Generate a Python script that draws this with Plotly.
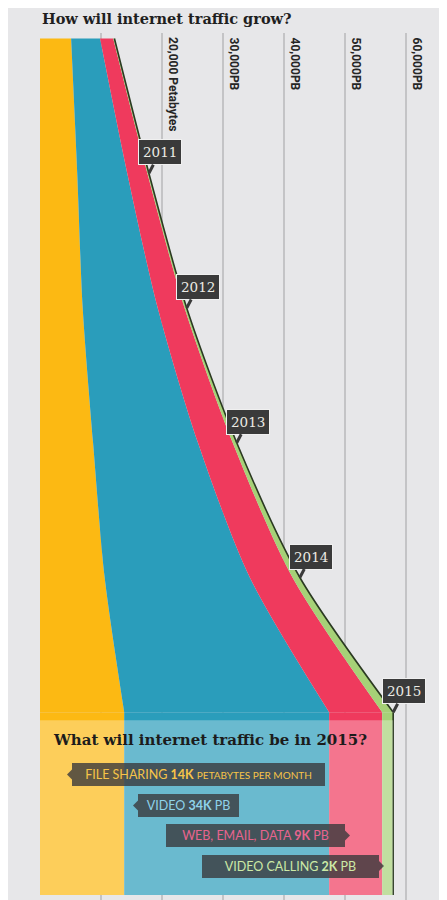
import plotly.graph_objects as go

# ---------------- data ----------------
years = [2010, 2011, 2012, 2013, 2014, 2015]
file_sharing = [5100, 6100, 7000, 8700, 10600, 13800]
video = [4750, 8200, 12300, 17200, 23800, 33600]
web_email_data = [2150, 3300, 4400, 5700, 7000, 8700]
video_calling = [200, 250, 350, 650, 1200, 1800]
series_names = ["File sharing", "Video", "Web, email, data", "Video calling"]
grid_values = [10000, 20000, 30000, 40000, 50000, 60000]
grid_labels = ["", "20,000 Petabytes", "30,000PB", "40,000PB", "50,000PB", "60,000PB"]
year_labels = ["2011", "2012", "2013", "2014", "2015"]

# ---------------- layout geometry (page px; page body has an 8px margin) ----------------
OFF = 8
PW, PH = 447, 900
W, H = PW - OFF, PH - OFF
L, T = 40, 33                     # plot origin in page px
plot_w = PW - L
plot_h = PH - T
px_per_pb = 0.0061
x_max = plot_w / px_per_pb
px_per_year = 134.75
y_top = years[0] - 5.5 / px_per_year
y_bot = y_top + plot_h / px_per_year
summary_end = y_top + (895 - T) / px_per_year   # 2015 band continues into the summary panel

BG = "#e7e7e9"
colors = ["#fcb913", "#2a9dbb", "#ef3a5d", "#a6d177"]


def xp(p):
    return (p - L) / plot_w


def yp(p):
    return 1 - (p - T) / plot_h


all_series = [file_sharing, video, web_email_data, video_calling]

fig = go.Figure()
# growth section (2010-2015), smooth
for i, (name, vals) in enumerate(zip(series_names, all_series)):
    last = i == len(all_series) - 1
    fig.add_trace(go.Scatter(
        x=vals, y=years, name=name,
        stackgroup="growth", orientation="h", mode="lines",
        line=dict(width=1.6 if last else 0, color="#2b3a22" if last else colors[i],
                  shape="spline", smoothing=0.8),
        fillcolor=colors[i], hoverinfo="skip", showlegend=False,
    ))
# 2015 band continued through the summary panel
for i, (name, vals) in enumerate(zip(series_names, all_series)):
    last = i == len(all_series) - 1
    fig.add_trace(go.Scatter(
        x=[vals[-1], vals[-1]], y=[years[-1], summary_end], name=name + " 2015",
        stackgroup="summary", orientation="h", mode="lines",
        line=dict(width=1.6 if last else 0, color="#2b3a22" if last else colors[i]),
        fillcolor=colors[i], hoverinfo="skip", showlegend=False,
    ))

totals = [sum(v) for v in zip(*all_series)]

annotations = []
shapes = []

# title
annotations.append(dict(
    x=xp(40), y=yp(OFF), xref="paper", yref="paper", xanchor="left", yanchor="top",
    text="<b>How will internet traffic grow?</b>", showarrow=False,
    font=dict(family="DejaVu Serif", size=14.5, color="#1f1f1f")))

# grid labels (rotated)
for v, lab in zip(grid_values, grid_labels):
    if not lab:
        continue
    annotations.append(dict(
        x=v, y=yp(35), xref="x", yref="paper", xanchor="left", yanchor="top",
        xshift=2, textangle=90, text="<b>%s</b>" % lab, showarrow=False,
        font=dict(family="Roboto", size=12, color="#262626")))

# year callouts
for yr, lab, tot in zip(years[1:], year_labels, totals[1:]):
    annotations.append(dict(
        x=tot, y=yr, xref="x", yref="y", text=lab, showarrow=True,
        ax=11, ay=-21, arrowhead=0, arrowwidth=3, arrowcolor="#3a3a3a",
        bgcolor="#3a3a3a", bordercolor="#f0f0f0", borderwidth=1, borderpad=4,
        font=dict(family="DejaVu Serif", size=13.5, color="#ecebe4")))

# summary panel overlay
shapes.append(dict(
    type="rect", xref="x", yref="y", x0=0, x1=totals[-1],
    y0=years[-1] + 8 / px_per_year, y1=summary_end,
    fillcolor="rgba(255,255,255,0.30)", line=dict(width=0), layer="above"))

annotations.append(dict(
    x=xp(51), y=yp(740), xref="paper", yref="paper", xanchor="left", yanchor="middle",
    text="<b>What will internet traffic be in 2015?</b>", showarrow=False,
    font=dict(family="DejaVu Serif", size=15, color="#1c1c1c")))


def k(v):
    return "%dK" % round(v / 1000)


label_rows = [
    ("FILE SHARING <b>%s</b> <span style='font-size:10px'>PETABYTES PER MONTH</span>" % k(file_sharing[-1]),
     72, 253, 774.5, "#f7c448", "left"),
    ("VIDEO <b>%s</b> PB" % k(video[-1]), 138, 101, 805.5, "#8fd2ea", "left"),
    ("WEB, EMAIL, DATA <b>%s</b> PB" % k(web_email_data[-1]), 166, 179, 835.5, "#e8648e", "right"),
    ("VIDEO CALLING <b>%s</b> PB" % k(video_calling[-1]), 202, 177, 866, "#cce9a6", "right"),
]
BOX = "rgba(58,58,60,0.80)"
for text, left, width, cy, col, notch in label_rows:
    annotations.append(dict(
        x=xp(left), y=yp(cy), xref="paper", yref="paper", xanchor="left", yanchor="middle",
        text=text, showarrow=False, width=width, height=23, align="center",
        bgcolor=BOX, borderpad=0, borderwidth=0,
        font=dict(family="Lato", size=12.5, color=col)))
    if notch == "left":
        x0, x1 = left, left - 5
    else:
        x0, x1 = left + width, left + width + 5
    path = "M %.5f,%.5f L %.5f,%.5f L %.5f,%.5f Z" % (
        xp(x0), yp(cy - 5), xp(x1), yp(cy), xp(x0), yp(cy + 5))
    shapes.append(dict(type="path", xref="paper", yref="paper", path=path,
                       fillcolor=BOX, line=dict(width=0), layer="above"))

fig.update_layout(
    width=W, height=H, autosize=False,
    margin=dict(l=L - OFF, r=0, t=T - OFF, b=0, pad=0),
    paper_bgcolor=BG, plot_bgcolor=BG,
    xaxis=dict(range=[0, x_max], tickvals=grid_values, showticklabels=False,
               showgrid=True, gridcolor="#c4c4c6", gridwidth=1.5, zeroline=False,
               showline=False, ticks="", fixedrange=True),
    yaxis=dict(range=[y_bot, y_top], visible=False, showgrid=False, zeroline=False,
               fixedrange=True),
    annotations=annotations, shapes=shapes,
    showlegend=False,
)

fig.write_html("out.html")
